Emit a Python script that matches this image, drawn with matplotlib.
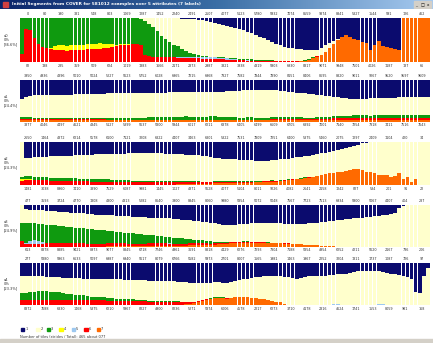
import numpy as np
import matplotlib.pyplot as plt
from matplotlib.patches import Rectangle
from matplotlib.colors import LinearSegmentedColormap
import matplotlib.transforms as mtransforms

# class colours, legend order 1..7
NAVY = '#0b0b6e'
LYELLOW = '#ffffcc'
GREEN = '#0f9a0f'
YELLOW = '#ffff00'
LBLUE = '#9cc8f0'
RED = '#ff0000'
ORANGE = '#ff6a00'

# ---- panel 1 (shares in %, navy at top, light yellow = rest) ----
p1_orange = [0]*67 + [1, 2, 3, 5, 9, 13, 17, 23, 32, 42, 50, 56, 62, 57, 53, 50, 46, 43,
                      28, 40, 47, 36, 35, 33, 31, 28] + [100]*7
p1_red = [18, 76, 74, 55, 42, 35, 32, 29, 27, 27, 27, 26, 27, 27, 28, 28, 29, 29, 30, 31,
          32, 33, 35, 36, 38, 39, 40, 41, 42, 40,
          16, 14, 13, 13, 12, 12, 11, 11, 10, 10, 10, 9, 9, 9, 8, 8, 8, 7, 7, 7,
          6, 6, 5, 5, 5, 4, 4, 4, 4, 3, 3, 3, 3, 2, 2, 2, 2, 1, 1, 1, 1, 1, 1] + [0]*27
p1_lblue = [0]*36 + [1, 1, 2, 2, 3, 3, 3, 4, 4, 4, 4, 4, 3, 3, 3, 2, 2, 1, 1, 1] + [0]*44
p1_yellow = [0]*7 + [3, 10, 11, 11, 11, 11, 11, 11, 12, 12, 12, 12, 12, 10, 8, 6, 4, 3, 2, 1] + [0]*73
p1_green = [82, 24, 26, 45, 58, 65, 68, 68, 63, 62, 62, 63, 62, 62, 61, 60, 59, 59, 58, 57,
            58, 59, 59, 60, 59, 59, 59, 59, 58, 57,
            77, 73, 67, 57, 48, 40, 33, 28, 24, 19, 13, 10, 7, 4, 3, 2, 1, 1, 1, 1,
            1, 1, 2, 2, 2, 2, 3, 2, 2, 2, 2, 2, 1, 2, 2, 2, 1, 1, 1, 1, 1, 1, 1] + [0]*27
p1_navy = [0]*36 + [0.5, 1, 1, 1.5, 2, 2.5, 3, 4, 5, 7,
                    9, 11, 13, 15, 17, 20, 22, 25, 28, 31,
                    34, 38, 42, 46, 50, 54, 58, 62, 65, 67,
                    68, 70, 71, 72, 73, 73, 72, 67, 62, 57,
                    53, 48, 44, 38, 43, 47, 50, 54, 57, 72,
                    60, 53, 64, 65, 67, 69, 72] + [0]*7

# ---- panel 2 ----
p2_orange = [3]*61 + [4]*20 + [5]*19
p2_red = [3]*21 + [2]*40 + [3]*15 + [4]*10 + [5]*14
p2_lblue = [0]*100
p2_yellow = [0]*100
p2_green = [5, 5, 5, 4, 4, 4, 4, 4, 3, 3, 4, 4, 3, 3, 3, 4, 4, 4, 3, 3,
            4, 4, 4, 4, 5, 5, 4, 4, 5, 5, 5, 6, 6, 6, 7, 7, 6, 6, 7, 7,
            8, 7, 6, 6, 7, 7, 8, 8, 7, 7, 7, 6, 6, 5, 5, 6, 6, 5, 5, 5,
            4, 4, 4, 4, 5, 5, 4, 4, 4, 3, 3, 3, 4, 4, 4, 4, 5, 5, 5, 6,
            6, 7, 7, 6, 6, 5, 6, 6, 7, 6, 5, 5, 6, 6, 5, 5, 6, 6, 5, 5]
p2_navy = [46, 40, 38, 37, 37, 37, 36, 36, 36, 35, 35, 35, 35, 34, 34, 34, 34, 33, 33, 33,
           33, 32, 32, 32, 32, 31, 31, 31, 31, 31, 30, 30, 30, 30, 30, 30, 29, 29, 29, 29,
           29, 29, 28, 28, 28, 28, 28, 28, 28, 28, 27, 27, 26, 26, 25, 25, 25, 24, 24, 24,
           24, 24, 25, 26, 27, 28, 29, 30, 31, 32, 33, 34, 35, 36, 38, 39, 40, 41, 42, 43,
           45, 46, 46, 45, 45, 44, 44, 43, 43, 42, 42, 42, 41, 41, 41, 40, 40, 40, 40, 40]

# ---- panel 3 ----
p3_orange = [0]*33 + [1, 1, 1, 1, 1, 2, 2, 2, 2, 2, 3, 3, 3, 3,
                      4, 4, 4, 4, 4, 4, 5, 5, 5, 5, 6, 6, 7, 7, 8, 8, 9,
                      10, 11, 12, 13, 14, 16, 17, 19, 21, 23, 25, 27, 28, 30, 31, 33, 35, 36, 36, 35,
                      31, 29, 27, 24, 23, 22, 19, 20, 28, 15, 18, 8, 13] + [0]*3
p3_red = [10, 12, 12, 11, 11, 11, 11, 10, 10, 10, 10,
          10, 10, 9, 9, 9, 9, 8, 8, 8, 8, 8, 7, 7, 7, 7, 7, 6, 6, 6, 6,
          6, 6, 5, 5, 5, 5, 5, 4, 4, 4, 4, 4, 4, 3, 3, 3, 3, 3, 3, 3,
          3, 3, 2, 2, 2, 2, 2, 2, 2, 2, 2, 1, 1, 1, 1, 1, 1, 1, 1, 1] + [0]*29
p3_lblue = [0]*100
p3_yellow = [4] + [1]*5 + [0]*94
p3_green = [5, 8, 8, 7, 7, 7, 7, 7, 7, 7, 7,
            7, 7, 7, 6, 6, 6, 6, 6, 6, 5, 5, 5, 5, 5, 5, 5, 4, 4, 4, 4,
            4, 4, 4, 4, 4, 3, 3, 3, 3, 3, 3, 3, 3, 2, 2, 2, 2, 2, 2, 2,
            2, 2, 2, 2, 2, 2, 1, 1, 1, 1, 1, 1, 1, 1, 1, 1, 1, 1, 1, 1] + [0]*29
p3_navy = [0, 38, 37, 36, 36, 35, 35, 34, 34, 33, 33,
           32, 32, 31, 31, 30, 30, 30, 29, 29, 29,
           28, 28, 28, 28, 28, 27, 27, 27, 27, 27, 27, 27, 27, 27, 28,
           28, 28, 29, 29, 30, 30, 31, 31, 32, 33,
           36, 37, 38, 39, 40, 41, 41,
           42, 42, 43, 43, 44, 44, 44, 44,
           43, 42, 41, 40, 39, 38,
           36, 35, 34, 33, 31, 29, 27, 25, 23, 21,
           19, 17, 15, 12, 10, 7, 4, 2] + [0]*15

# ---- panel 4 ----
p4_orange = [0]*21 + [1]*10 + [2]*10 + [3]*6 + [5, 6, 7, 7, 8, 8, 8, 9, 9] + \
            [10, 10, 10, 10, 9, 9, 8] + [8, 7, 7, 7, 6, 6, 5, 4] + [3, 3, 2, 2, 1, 1] + [0]*23
p4_red = [14, 6, 6, 6, 6, 6] + [8]*10 + [7]*10 + [6]*10 + [5]*10 + [3]*10 + [1]*10 + [0]*34
p4_lblue = [0, 4, 8, 9, 8, 5, 2] + [0]*25 + [1]*5 + [0]*63
p4_yellow = [0]*100
p4_green = [44, 48, 43, 41, 41, 43, 43, 44, 43, 42,
            41, 40, 39, 38, 37, 36, 36, 35, 34, 33,
            32, 30, 29, 28, 27, 26, 26, 25, 24, 23,
            22, 20, 18, 17, 16, 15, 15, 15, 14, 13,
            12, 10, 9, 8, 7, 6, 7, 4, 2, 1] + [1]*11 + [0]*39
p4_navy = [0, 10, 11, 12, 12, 13, 14, 14, 15, 16,
           16, 17, 18, 18, 19, 20, 21, 22, 23, 24,
           24, 25, 25, 26, 26, 27, 27, 28, 28, 29,
           29, 30, 30, 31, 31, 32, 32, 33, 34, 35,
           36, 37, 38, 39, 40, 41, 42, 44, 46, 47,
           48, 48, 47, 46, 45, 45, 44, 43, 43, 42,
           42, 42, 43, 44, 45, 46, 46, 46, 45, 45,
           44, 43, 42, 41, 40, 39, 38, 37, 35, 34,
           33, 32, 31, 30, 29, 28, 27, 26, 25, 24,
           21, 18, 8, 3, 1, 0, 0, 0, 0, 0]

# ---- panel 5 ----
p5_orange = [1]*40 + [2, 3, 4, 6, 9, 12, 14, 16, 16, 16] + \
            [15, 17, 18, 18, 18, 18, 17, 16, 15, 14] + [12, 10, 8, 6, 3, 1] + [0]*34
p5_red = [11]*11 + [10]*10 + [8]*10 + [6]*9 + [4, 4, 3, 3, 2, 2] + [1]*5 + [0]*49
p5_lblue = [0]*75 + [1, 2, 2, 1] + [0]*7 + [1, 2, 2, 1] + [0]*10
p5_yellow = [1]*16 + [0]*84
p5_green = [15, 16, 18, 19, 20, 20, 20, 19, 18, 17, 16,
            15, 14, 13, 12, 11, 10, 9, 9, 8, 8,
            7, 7, 6, 6, 5, 5, 5, 4, 4, 4,
            3, 3, 3, 3, 2, 2, 2, 2, 1, 1,
            1, 1, 1, 1, 1, 1, 1, 1, 1, 1] + [0]*49
p5_navy = [30, 30, 31, 31, 32, 32, 33, 33, 34, 34,
           35, 35, 35, 36, 36, 37, 37, 37, 38, 38,
           38, 38, 39, 39, 39, 40, 40, 40, 41, 41,
           41, 42, 42, 42, 43, 43, 44, 44, 45, 45,
           46, 47, 47, 48, 48, 48, 47, 46, 46, 47,
           47, 45, 43, 41, 39, 37, 36, 34, 33, 32,
           31, 31, 31, 32, 33, 34, 36, 37, 36, 34,
           32, 31, 31, 31, 30, 29, 28, 27, 26, 25,
           24, 22, 20, 19, 18, 18, 18, 19, 21, 23,
           25, 27, 29, 31, 34, 37, 70, 72, 32, 12]

# tick-like count labels above / below each panel
p1_top = ['0', '80', '190', '331', '548', '803', '1069', '1287', '1452', '2240', '2491', '2507', '4077',
          '5123', '5780', '5932', '7074', '8559', '9374', '8841', '5327', '1544', '591', '126', '462']
p1_bot = ['82', '138', '285', '359', '509', '624', '1019', '1383', '1666', '2171', '2373', '2987', '3321',
          '3938', '4819', '5903', '6930', '8317', '9071', '9948', '7501', '4026', '1187', '137', '66']
p2_top = ['3950', '4936', '4896', '5010', '5024', '5227', '5623', '5752', '6028', '6965', '7215', '6968',
          '7327', '7582', '7844', '7890', '8151', '8406', '8695', '8820', '9011', '9267', '9520', '9597', '9609']
p2_bot = ['3377', '4046', '4497', '4621', '4845', '5127', '5399', '5637', '5800', '5944', '6017', '6211',
          '6378', '6405', '6499', '6609', '6705', '6892', '7001', '7140', '7254', '7318', '7411', '7516', '7643']
p3_top = ['2650', '1464', '4372', '6214', '5578', '6100', '7121', '3208', '6822', '4407', '3463', '6801',
          '5322', '7531', '7809', '7251', '6400', '5375', '5460', '2075', '1297', '2409', '1104', '420', '34']
p3_bot = ['1481', '3038', '8960', '7410', '3390', '7529', '6087', '9981', '1445', '1027', '4371', '5628',
          '4077', '5104', '8011', '9226', '4082', '2641', '2158', '1242', '827', '534', '201', '91', '22']
p4_top = ['477', '3593', '3724', '4770', '1308', '4800', '4813', '5282', '8640', '3900', '8845', '8060',
          '9980', '5854', '5072', '5048', '7567', '7723', '7513', '6934', '5900', '5067', '4407', '404', '287']
p4_bot = ['613', '8378', '8885', '9421', '8973', '9077', '8845', '6718', '7746', '4961', '3691', '8818',
          '4429', '6276', '7293', '7304', '7188', '5854', '4954', '6252', '4211', '5620', '2167', '736', '206']
p5_top = ['277', '5880', '5963', '6633', '5097', '6987', '6940', '5617', '8079', '6766', '5582', '5973',
          '2701', '8007', '1565', '1981', '1463', '1967', '2252', '3204', '1311', '1737', '1087', '726', '97']
p5_bot = ['8372', '7688', '6830', '1468', '5375', '6210', '5967', '8227', '4900', '8236', '5271', '5874',
          '6006', '4578', '2217', '6273', '3710', '4178', '2316', '4624', '1741', '1553', '8059', '981', '168']

side_labels = ['a0\n0%\n[36.6%]', 'a1\n0%\n[24.4%]', 'a2\n0%\n[24.3%]', 'a3\n0%\n[24.9%]', 'a4\n0%\n[23.3%]']
legend_labels = ['1', '2', '3', '4', '5', '6', '7']

W, H = 433, 343
fig = plt.figure(figsize=(W / 100, H / 100), dpi=100)
fig.patch.set_facecolor('white')
plt.rcParams['font.family'] = 'DejaVu Sans'


def px_box(x0, y0, x1, y1):
    # pixel box (top-left origin) -> figure fraction rect
    return [x0 / W, 1 - y1 / H, (x1 - x0) / W, (y1 - y0) / H]


# title bar
tax = fig.add_axes(px_box(0, 0, W, 9))
grad = np.linspace(0, 1, 256).reshape(1, -1)
cm = LinearSegmentedColormap.from_list('tb', ['#0a246a', '#3a6ea5', '#a6caf0'])
tax.imshow(grad, aspect='auto', cmap=cm, extent=[0, 1, 0, 1])
tax.axis('off')
tax.add_patch(Rectangle((0.006, 0.2), 0.012, 0.6, color='#d04040', transform=tax.transAxes))
tax.text(0.028, 0.5, 'Initial Segments from COVER for 581012 examples over 5 attributes (7 labels)',
         color='white', fontsize=3.05, fontweight='bold', va='center', ha='left', transform=tax.transAxes)
for i, s in enumerate(['_', '□', 'x']):
    bx = 0.955 + i * 0.014
    tax.add_patch(Rectangle((bx, 0.12), 0.012, 0.76, color='#d4d0c8', transform=tax.transAxes))
    tax.text(bx + 0.006, 0.45, s, fontsize=3, ha='center', va='center', transform=tax.transAxes)

# panels: (top px, bottom px)
panel_px = [(18, 62.3), (80, 121.7), (141.7, 185), (205, 246.7), (263, 305)]
panels = [
    (p1_orange, p1_red, p1_lblue, p1_yellow, p1_green, p1_navy, p1_top, p1_bot),
    (p2_orange, p2_red, p2_lblue, p2_yellow, p2_green, p2_navy, p2_top, p2_bot),
    (p3_orange, p3_red, p3_lblue, p3_yellow, p3_green, p3_navy, p3_top, p3_bot),
    (p4_orange, p4_red, p4_lblue, p4_yellow, p4_green, p4_navy, p4_top, p4_bot),
    (p5_orange, p5_red, p5_lblue, p5_yellow, p5_green, p5_navy, p5_top, p5_bot),
]

for k, ((y0, y1), data) in enumerate(zip(panel_px, panels)):
    orange, red, lblue, yellow, green, navy, top_lab, bot_lab = data
    ax = fig.add_axes(px_box(20, y0, 430, y1))
    n = len(orange)
    x = np.arange(n)
    bottom = np.zeros(n)
    for vals, col in zip([orange, red, lblue, yellow, green], [ORANGE, RED, LBLUE, YELLOW, GREEN]):
        v = np.asarray(vals, float)
        ax.bar(x, v, bottom=bottom, width=0.86, color=col, linewidth=0)
        bottom += v
    nv = np.asarray(navy, float)
    ly = np.clip(100 - bottom - nv, 0, None)
    ax.bar(x, ly, bottom=bottom, width=0.86, color=LYELLOW, linewidth=0)
    ax.bar(x, nv, bottom=100 - nv, width=0.86, color=NAVY, linewidth=0)
    ax.set_xlim(-0.5, n - 0.5)
    ax.set_ylim(0, 100)
    ax.axis('off')

    trans = mtransforms.blended_transform_factory(ax.transData, ax.transAxes)
    pos = np.arange(len(top_lab)) * 4 + 1.5
    for p, s in zip(pos, top_lab):
        ax.text(p, 1.05, s, fontsize=2.4, color='#333333', ha='center', va='bottom',
                transform=trans, clip_on=False)
    for p, s in zip(pos, bot_lab):
        ax.text(p, -0.04, s, fontsize=2.4, color='#333333', ha='center', va='top',
                transform=trans, clip_on=False)
    fig.text(4 / W, 1 - ((y0 + y1) / 2) / H, side_labels[k], fontsize=2.6, color='#333333',
             ha='left', va='center', linespacing=1.1)

# legend
leg_x = [20.7, 36, 46.7, 59.3, 71.7, 84, 96.7]
leg_c = [NAVY, LYELLOW, GREEN, YELLOW, LBLUE, RED, ORANGE]
for lx, c, s in zip(leg_x, leg_c, legend_labels):
    fig.patches.append(Rectangle((lx / W, 1 - 331 / H), 3.5 / W, 3.5 / H, color=c,
                                 transform=fig.transFigure, figure=fig))
    fig.text((lx + 4.5) / W, 1 - 329.5 / H, s, fontsize=2.6, color='#333333', va='center')
fig.text(20 / W, 1 - 337 / H, 'Number of tiles (strides / Total): 465 about 077', fontsize=2.6,
         color='#333333', va='center')

# bottom status strip
fig.patches.append(Rectangle((0, 0), 1, 4 / H, color='#d4d0c8', transform=fig.transFigure, figure=fig))

fig.savefig('out.png', dpi=100)
